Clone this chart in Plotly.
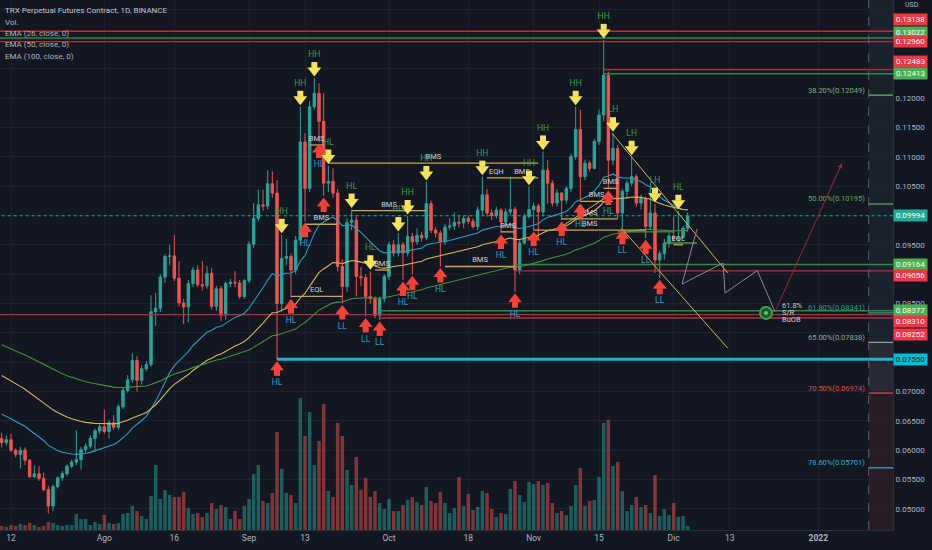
import numpy as np
import pandas as pd
import plotly.graph_objects as go

# TRX perpetual, 1D candles 2021-07-10 .. 2021-12-04
dates = pd.date_range("2021-07-10", "2021-12-04", freq="D")

opens = [
    0.0620, 0.0613, 0.0618, 0.0600, 0.0593, 0.0600, 0.0583, 0.0555, 0.0560, 0.0552,
    0.0533, 0.0505, 0.0538, 0.0553, 0.0560, 0.0573, 0.0580, 0.0584, 0.0601, 0.0607,
    0.0620, 0.0633, 0.0640, 0.0632, 0.0647, 0.0639, 0.0674, 0.0702, 0.0720, 0.0753,
    0.0719, 0.0739, 0.0746, 0.0836, 0.0842, 0.0895, 0.0930, 0.0931, 0.0893, 0.0851,
    0.0844, 0.0884, 0.0907, 0.0882, 0.0880, 0.0901, 0.0845, 0.0875, 0.0830, 0.0884,
    0.0886, 0.0885, 0.0862, 0.0889, 0.0951, 0.0995, 0.1018, 0.1016, 0.1054, 0.1038,
    0.0850, 0.0927, 0.0930, 0.0907, 0.0958, 0.1125, 0.1046, 0.1185, 0.1208, 0.1160,
    0.1055, 0.1058, 0.1038, 0.0913, 0.0879, 0.0988, 0.0992, 0.0896, 0.0894, 0.0862,
    0.0858, 0.0830, 0.0858, 0.0896, 0.0950, 0.0936, 0.0950, 0.0936, 0.0964, 0.0955,
    0.0966, 0.0962, 0.1020, 0.0975, 0.0970, 0.0955, 0.0980, 0.0982, 0.0988, 0.0987,
    0.0995, 0.0990, 0.0981, 0.1009, 0.1035, 0.1004, 0.1000, 0.1009, 0.0989, 0.1006,
    0.1010, 0.0907, 0.0953, 0.0998, 0.1010, 0.1016, 0.1006, 0.1077, 0.1055, 0.1021,
    0.1038, 0.1026, 0.1046, 0.1100, 0.1146, 0.1066, 0.1089, 0.1080, 0.1126, 0.1171,
    0.1239, 0.1094, 0.1114, 0.1004, 0.1041, 0.1055, 0.1066, 0.1021, 0.1029, 0.0981,
    0.1004, 0.0924, 0.0935, 0.0953, 0.0965, 0.0960, 0.0962, 0.0978,
]
highs = [
    0.0630, 0.0625, 0.0628, 0.0603, 0.0606, 0.0605, 0.0585, 0.0574, 0.0573, 0.0562,
    0.0540, 0.0542, 0.0556, 0.0565, 0.0576, 0.0584, 0.0634, 0.0606, 0.0612, 0.0625,
    0.0637, 0.0645, 0.0669, 0.0652, 0.0660, 0.0678, 0.0706, 0.0728, 0.0765, 0.0760,
    0.0745, 0.0752, 0.0864, 0.0868, 0.0900, 0.0934, 0.0950, 0.0967, 0.0922, 0.0858,
    0.0890, 0.0912, 0.0915, 0.0922, 0.0914, 0.0910, 0.0880, 0.0880, 0.0888, 0.0892,
    0.0905, 0.0890, 0.0892, 0.0956, 0.1021, 0.1044, 0.1044, 0.1077, 0.1075, 0.1060,
    0.0967, 0.0960, 0.0935, 0.0965, 0.1185, 0.1140, 0.1195, 0.1234, 0.1225, 0.1208,
    0.1085, 0.1080, 0.1045, 0.0925, 0.0995, 0.1010, 0.0998, 0.0912, 0.0900, 0.0905,
    0.0862, 0.0862, 0.0900, 0.0955, 0.0958, 0.0970, 0.0955, 0.0999, 0.0970, 0.0978,
    0.0972, 0.1057, 0.1025, 0.0980, 0.0975, 0.0985, 0.0995, 0.1005, 0.1000, 0.1000,
    0.1000, 0.0995, 0.1015, 0.1066, 0.1045, 0.1010, 0.1015, 0.1012, 0.1012, 0.1066,
    0.1015, 0.0958, 0.1003, 0.1049, 0.1022, 0.1020, 0.1109, 0.1094, 0.1060, 0.1045,
    0.1040, 0.1050, 0.1105, 0.1185, 0.1180, 0.1095, 0.1093, 0.1130, 0.1180, 0.1299,
    0.1245, 0.1140, 0.1120, 0.1045, 0.1060, 0.1100, 0.1070, 0.1035, 0.1032, 0.1055,
    0.1020, 0.0940, 0.0960, 0.0970, 0.0998, 0.1008, 0.0982, 0.1005,
]
lows = [
    0.0605, 0.0608, 0.0597, 0.0588, 0.0569, 0.0575, 0.0553, 0.0552, 0.0548, 0.0530,
    0.0492, 0.0497, 0.0535, 0.0548, 0.0556, 0.0570, 0.0575, 0.0567, 0.0596, 0.0603,
    0.0598, 0.0628, 0.0628, 0.0620, 0.0635, 0.0635, 0.0670, 0.0698, 0.0715, 0.0700,
    0.0712, 0.0735, 0.0742, 0.0812, 0.0835, 0.0885, 0.0915, 0.0888, 0.0845, 0.0815,
    0.0818, 0.0878, 0.0878, 0.0872, 0.0875, 0.0840, 0.0838, 0.0820, 0.0822, 0.0878,
    0.0878, 0.0858, 0.0858, 0.0885, 0.0945, 0.0990, 0.1008, 0.1010, 0.1030, 0.0754,
    0.0836, 0.0915, 0.0860, 0.0900, 0.0950, 0.0990, 0.1040, 0.1180, 0.1125, 0.1033,
    0.1040, 0.1030, 0.0905, 0.0850, 0.0870, 0.0975, 0.0862, 0.0880, 0.0828, 0.0850,
    0.0825, 0.0822, 0.0852, 0.0890, 0.0930, 0.0930, 0.0890, 0.0930, 0.0900, 0.0950,
    0.0955, 0.0958, 0.0970, 0.0962, 0.0913, 0.0950, 0.0975, 0.0975, 0.0980, 0.0978,
    0.0985, 0.0978, 0.0975, 0.1000, 0.0998, 0.0992, 0.0995, 0.0970, 0.0985, 0.1000,
    0.0870, 0.0900, 0.0950, 0.0995, 0.0975, 0.0960, 0.1000, 0.1020, 0.1015, 0.1015,
    0.0992, 0.1020, 0.1040, 0.1095, 0.1023, 0.1060, 0.1075, 0.1078, 0.1120, 0.1160,
    0.1045, 0.1085, 0.0995, 0.0978, 0.1030, 0.1050, 0.1015, 0.1010, 0.0961, 0.0975,
    0.0902, 0.0893, 0.0925, 0.0945, 0.0955, 0.0955, 0.0960, 0.0972,
]
closes = [
    0.0613, 0.0618, 0.0600, 0.0593, 0.0600, 0.0583, 0.0555, 0.0560, 0.0552, 0.0533,
    0.0505, 0.0538, 0.0553, 0.0560, 0.0573, 0.0580, 0.0584, 0.0601, 0.0607, 0.0620,
    0.0633, 0.0640, 0.0632, 0.0647, 0.0639, 0.0674, 0.0702, 0.0720, 0.0753, 0.0719,
    0.0739, 0.0746, 0.0836, 0.0842, 0.0895, 0.0930, 0.0931, 0.0893, 0.0851, 0.0844,
    0.0884, 0.0907, 0.0882, 0.0880, 0.0901, 0.0845, 0.0875, 0.0830, 0.0884, 0.0886,
    0.0885, 0.0862, 0.0889, 0.0951, 0.0995, 0.1018, 0.1016, 0.1054, 0.1038, 0.0850,
    0.0927, 0.0930, 0.0907, 0.0958, 0.1125, 0.1046, 0.1185, 0.1208, 0.1160, 0.1055,
    0.1058, 0.1038, 0.0913, 0.0879, 0.0988, 0.0992, 0.0896, 0.0894, 0.0862, 0.0858,
    0.0830, 0.0858, 0.0896, 0.0950, 0.0936, 0.0950, 0.0936, 0.0964, 0.0955, 0.0966,
    0.0962, 0.1020, 0.0975, 0.0970, 0.0955, 0.0980, 0.0982, 0.0988, 0.0987, 0.0995,
    0.0990, 0.0981, 0.1009, 0.1035, 0.1004, 0.1000, 0.1009, 0.0989, 0.1006, 0.1010,
    0.0907, 0.0953, 0.0998, 0.1010, 0.1016, 0.1006, 0.1077, 0.1055, 0.1021, 0.1038,
    0.1026, 0.1046, 0.1100, 0.1146, 0.1066, 0.1089, 0.1080, 0.1126, 0.1171, 0.1239,
    0.1094, 0.1114, 0.1004, 0.1041, 0.1055, 0.1066, 0.1021, 0.1029, 0.0981, 0.1004,
    0.0924, 0.0935, 0.0953, 0.0965, 0.0960, 0.0962, 0.0978, 0.0999,
]
# volume, relative units (bar heights)
volume = [
    4, 3, 5, 4, 6, 5, 7, 5, 3, 4,
    8, 7, 5, 4, 5, 5, 16, 11, 11, 5,
    8, 6, 15, 7, 6, 7, 16, 17, 24, 19,
    14, 11, 34, 65, 31, 40, 35, 33, 33, 38,
    22, 16, 17, 13, 17, 27, 21, 25, 23, 11,
    19, 11, 24, 31, 56, 65, 29, 27, 37, 98,
    61, 37, 35, 27, 132, 94, 118, 65, 89, 126,
    39, 33, 107, 94, 60, 45, 73, 40, 52, 33,
    39, 27, 21, 31, 19, 19, 25, 30, 33, 28,
    25, 43, 29, 27, 38, 27, 17, 22, 53, 24,
    36, 20, 23, 39, 37, 21, 13, 17, 16, 41,
    49, 35, 28, 48, 46, 49, 45, 47, 27, 17,
    19, 15, 24, 45, 62, 24, 29, 30, 53, 107,
    110, 64, 68, 39, 19, 25, 33, 23, 25, 17,
    55, 14, 21, 15, 27, 13, 14, 4,
]

ema_periods = [26, 50, 100]
ema_seeds = [0.0665, 0.0732, 0.0783]  # values at the left edge of the chart
ema_colors = ["#2b9cc0", "#d8b45e", "#4a8f3c"]

# swing markers
hi_dates = ["2021-09-08", "2021-09-12", "2021-09-15", "2021-09-18", "2021-09-23", "2021-09-27",
            "2021-10-03", "2021-10-05", "2021-10-09", "2021-10-21", "2021-10-31", "2021-11-03",
            "2021-11-10", "2021-11-16", "2021-11-18", "2021-11-22", "2021-11-27", "2021-12-02"]
hi_tags = ["HH", "HH", "HH", "HL", "HL", "HL", "HH", "HH", "HH", "HH", "HH", "HH",
           "HH", "HH", "LH", "LH", "LH", "HL"]
lo_dates = ["2021-09-07", "2021-09-10", "2021-09-13", "2021-09-16", "2021-09-17", "2021-09-21",
            "2021-09-26", "2021-09-29", "2021-10-04", "2021-10-06", "2021-10-12", "2021-10-25",
            "2021-10-28", "2021-11-01", "2021-11-07", "2021-11-11", "2021-11-17", "2021-11-20",
            "2021-11-25", "2021-11-28"]
lo_tags = ["HL", "HL", "HL", "HL", "", "LL", "LL", "LL", "HL", "HL", "HL", "HL",
           "HL", "HL", "HL", "HL", "HL", "LL", "LL", "LL"]

# structure levels (BMS / EQL / EQH)
seg_start = ["2021-09-10", "2021-09-13", "2021-09-18", "2021-09-23", "2021-09-28", "2021-10-13",
             "2021-10-22", "2021-10-26", "2021-10-25", "2021-11-01", "2021-11-07", "2021-11-11",
             "2021-11-16", "2021-12-01", "2021-09-14"]
seg_end = ["2021-09-21", "2021-09-20", "2021-11-02", "2021-10-09", "2021-10-01", "2021-10-28",
           "2021-10-26", "2021-11-02", "2021-10-28", "2021-11-25", "2021-11-19", "2021-11-18",
           "2021-11-19", "2021-12-03", "2021-09-17"]
seg_price = [0.0862, 0.0985, 0.1089, 0.1008, 0.0907, 0.0913, 0.1064, 0.1064, 0.0972,
             0.0975, 0.0994, 0.1024, 0.1046, 0.0950, 0.1120]
seg_tags = ["EQL", "BMS", "BMS", "BMS", "BMS", "BMS", "EQH", "BMS", "BMS",
            "BMS", "BMS", "BMS", "BMS", "EQL", "BMS"]

green_seg_start = ["2021-11-19", "2021-11-29"]
green_seg_end = ["2021-12-01", "2021-12-06"]
green_seg_price = [0.0972, 0.0953]

# order-block / S/R horizontal levels
lvl_price = [0.13138, 0.13022, 0.12960, 0.12483, 0.12413, 0.09164, 0.09056,
             0.08377, 0.08310, 0.08252, 0.07550]
lvl_start = ["2021-07-01", "2021-07-01", "2021-07-01", "2021-11-16", "2021-11-16", "2021-10-28",
             "2021-10-28", "2021-09-29", "2021-07-01", "2021-09-29", "2021-09-07"]
lvl_kind = ["r", "g", "r", "r", "g", "g", "r", "g", "r", "r", "c"]

last_price = 0.09994

# trend lines (drawn by the author)
tl_x0 = ["2021-11-17 19:00", "2021-11-19 17:00", "2021-11-06 14:00"]
tl_y0 = [0.1140, 0.0979, 0.0979]
tl_x1 = ["2021-12-12 14:00", "2021-12-12 14:00", "2021-11-16 17:00"]
tl_y1 = [0.0902, 0.0774, 0.1032]

# projected path
zig_x = ["2021-12-06 00:00", "2021-12-02 19:00", "2021-12-11 14:00",
         "2021-12-12 00:00", "2021-12-18 22:00", "2021-12-22 17:00"]
zig_y = [0.0977, 0.0883, 0.0919, 0.0868, 0.0906, 0.0836]
target_x, target_y = "2022-01-06 02:00", 0.1089
eye_x, eye_y = "2021-12-20 19:00", 0.0834
eye_text_x = "2021-12-24 05:00"

# fibonacci retracement
fib_pct = ["38.20%", "50.00%", "61.80%", "65.00%", "70.50%", "78.60%"]
fib_price = [0.12049, 0.10195, 0.08341, 0.07838, 0.06974, 0.05701]
fib_colors = ["#79b56f", "#63ad5b", "#22a39a", "#93ab9c", "#e04a4a", "#29b6d6"]

# price-scale tags
tag_price = [0.13138, 0.13022, 0.12960, 0.12483, 0.12413, 0.09994, 0.09164,
             0.09056, 0.08377, 0.08310, 0.08252, 0.07550]
tag_kind = ["r", "g", "r", "r", "g", "t", "g", "r", "g", "r", "r", "c"]
tag_shift = [12, 6, 0, 8, 0, 0, 0, -5, 0, -7, -16, 0]

# price ticks that are not hidden behind a tag
y_ticks = [0.050, 0.055, 0.060, 0.065, 0.070, 0.085, 0.095, 0.105, 0.110, 0.115, 0.120]

x_ticks = ["2021-07-12", "2021-08-01", "2021-08-16", "2021-09-01", "2021-09-13", "2021-10-01",
           "2021-10-18", "2021-11-01", "2021-11-15", "2021-12-01", "2021-12-13", "2022-01-01"]
x_text = ["12", "Ago", "16", "Sep", "13", "Oct", "18", "Nov", "15", "Dic", "13", "<b>2022</b>"]

BG = "#131722"
TXT = "#b2b5be"
GRID = "#1e222d"
FONT = "Roboto"
LINE_COL = {"r": "#b3303a", "g": "#2f8a42", "c": "#19b5d2"}
TAG_COL = {"r": "#f23645", "g": "#4caf50", "t": "#22ab94", "c": "#00bcd4"}
X_RANGE = ["2021-07-09 15:26", "2022-01-17 00:00"]
Y_RANGE = [0.046419, 0.136692]
PLOT_H = 530
PX = (Y_RANGE[1] - Y_RANGE[0]) / PLOT_H   # price per pixel
fib_edge = "2022-01-11 19:00"
far_right = "2022-02-15"


def ema(values, period, seed):
    k = 2.0 / (period + 1)
    out, e = [], seed
    for v in values:
        e = v * k + e * (1 - k)
        out.append(e)
    return out


fig = go.Figure()

# volume on the hidden primary axis (drawn underneath)
up = np.array(closes) >= np.array(opens)
vol_colors = np.where(up, "rgba(38,166,154,0.5)", "rgba(239,83,80,0.5)")
fig.add_trace(go.Bar(x=dates, y=volume, marker_color=vol_colors, marker_line_width=0,
                     yaxis="y", hoverinfo="skip"))

# horizontal levels
for p, s, k in zip(lvl_price, lvl_start, lvl_kind):
    fig.add_trace(go.Scatter(x=[s, far_right], y=[p, p], mode="lines", yaxis="y2",
                             line=dict(color=LINE_COL[k], width=3 if k == "c" else 1.4),
                             hoverinfo="skip"))
fig.add_trace(go.Scatter(x=["2021-07-01", far_right], y=[last_price, last_price], mode="lines",
                         yaxis="y2", line=dict(color="#22ab94", width=1, dash="dot"),
                         hoverinfo="skip"))

# EMAs
for per, seed, col in zip(ema_periods, ema_seeds, ema_colors):
    fig.add_trace(go.Scatter(x=dates, y=ema(closes, per, seed), mode="lines", yaxis="y2",
                             line=dict(color=col, width=1.1), hoverinfo="skip"))

# candles
fig.add_trace(go.Candlestick(x=dates, open=opens, high=highs, low=lows, close=closes,
                             yaxis="y2", whiskerwidth=0,
                             increasing=dict(line=dict(color="#26a69a", width=1), fillcolor="#26a69a"),
                             decreasing=dict(line=dict(color="#ef5350", width=1), fillcolor="#ef5350"),
                             hoverinfo="skip"))

# structure segments
for s, e, p in zip(seg_start, seg_end, seg_price):
    fig.add_trace(go.Scatter(x=[s, e], y=[p, p], mode="lines", yaxis="y2",
                             line=dict(color="#c9a84c", width=1.3), hoverinfo="skip"))
for s, e, p in zip(green_seg_start, green_seg_end, green_seg_price):
    fig.add_trace(go.Scatter(x=[s, e], y=[p, p], mode="lines", yaxis="y2",
                             line=dict(color="#4a9a3e", width=1.3), hoverinfo="skip"))
seg_mid = [pd.Timestamp(s) + (pd.Timestamp(e) - pd.Timestamp(s)) / 2 for s, e in zip(seg_start, seg_end)]
fig.add_trace(go.Scatter(x=seg_mid, y=[p + 6 * PX for p in seg_price], mode="text", text=seg_tags,
                         yaxis="y2", textfont=dict(family=FONT, size=7.5, color="#d1d4dc"),
                         hoverinfo="skip"))

# trend lines
for x0, y0, x1, y1 in zip(tl_x0, tl_y0, tl_x1, tl_y1):
    fig.add_trace(go.Scatter(x=[x0, x1], y=[y0, y1], mode="lines", yaxis="y2",
                             line=dict(color="#d9b44a", width=1), hoverinfo="skip"))

# projection
fig.add_trace(go.Scatter(x=zig_x, y=zig_y, mode="lines", yaxis="y2",
                         line=dict(color="#8a8d96", width=1), hoverinfo="skip"))
fig.add_trace(go.Scatter(x=[eye_x], y=[eye_y], mode="markers", yaxis="y2",
                         marker=dict(symbol="circle", size=12, color="#1d5a2a",
                                     line=dict(color="#3ea14c", width=2)), hoverinfo="skip"))
fig.add_trace(go.Scatter(x=[eye_x], y=[eye_y], mode="markers", yaxis="y2",
                         marker=dict(symbol="circle", size=4, color="#62c56f"), hoverinfo="skip"))
fig.add_trace(go.Scatter(x=[eye_text_x] * 3, y=[eye_y + 7 * PX, eye_y, eye_y - 7 * PX],
                         mode="text", text=["61.8%", "S/R", "BuOB"], textposition="middle right",
                         yaxis="y2", textfont=dict(family=FONT, size=7.5, color="#c8cad0"),
                         hoverinfo="skip"))

# swing arrows
date_keys = list(dates.strftime("%Y-%m-%d"))
hi_y = [highs[date_keys.index(d)] for d in hi_dates]
lo_y = [lows[date_keys.index(d)] for d in lo_dates]

fig.add_trace(go.Scatter(x=hi_dates, y=[v + 13 * PX for v in hi_y], mode="markers", yaxis="y2",
                         marker=dict(symbol="square", size=6, color="#f7e35a", line_width=0),
                         hoverinfo="skip"))
fig.add_trace(go.Scatter(x=hi_dates, y=[v + 7.5 * PX for v in hi_y], mode="markers", yaxis="y2",
                         marker=dict(symbol="triangle-down", size=12, color="#f7e35a", line_width=0),
                         hoverinfo="skip"))
fig.add_trace(go.Scatter(x=hi_dates, y=[v + 23 * PX for v in hi_y], mode="text", text=hi_tags,
                         yaxis="y2", textfont=dict(family=FONT, size=8.5, color="#3f9a4b"),
                         hoverinfo="skip"))
fig.add_trace(go.Scatter(x=lo_dates, y=[v - 13 * PX for v in lo_y], mode="markers", yaxis="y2",
                         marker=dict(symbol="square", size=6, color="#f44336", line_width=0),
                         hoverinfo="skip"))
fig.add_trace(go.Scatter(x=lo_dates, y=[v - 7.5 * PX for v in lo_y], mode="markers", yaxis="y2",
                         marker=dict(symbol="triangle-up", size=12, color="#f44336", line_width=0),
                         hoverinfo="skip"))
fig.add_trace(go.Scatter(x=lo_dates, y=[v - 23 * PX for v in lo_y], mode="text", text=lo_tags,
                         yaxis="y2", textfont=dict(family=FONT, size=8.5, color="#2a9fc0"),
                         hoverinfo="skip"))

shapes = []
# fib zones in the right strip
zone_edges = [Y_RANGE[1], fib_price[3], fib_price[4], Y_RANGE[0]]
zone_fill = ["#19222d", "#282a35", "#2a1c25"]
for i, col in enumerate(zone_fill):
    shapes.append(dict(type="rect", xref="x", yref="y2", x0=fib_edge, x1=X_RANGE[1],
                       y0=zone_edges[i + 1], y1=zone_edges[i], fillcolor=col, line_width=0,
                       layer="below"))
for p, col in zip(fib_price, fib_colors):
    shapes.append(dict(type="line", xref="x", yref="y2", x0=fib_edge, x1=X_RANGE[1], y0=p, y1=p,
                       line=dict(color=col, width=1.2)))
shapes.append(dict(type="line", xref="x", yref="paper", x0=fib_edge, x1=fib_edge, y0=0, y1=1,
                   line=dict(color="#5d606b", width=1, dash="dash")))

annotations = []
for pct, p, col in zip(fib_pct, fib_price, fib_colors):
    annotations.append(dict(x=fib_edge, y=p, xref="x", yref="y2", text=f"{pct}({p:.5f})",
                            showarrow=False, xanchor="right", yanchor="middle", xshift=-2, yshift=5,
                            font=dict(family=FONT, size=7.5, color=col)))
for p, k, sh in zip(tag_price, tag_kind, tag_shift):
    annotations.append(dict(x=1, y=p, xref="paper", yref="y2", text=f"{p:.5f}", showarrow=False,
                            xanchor="left", yanchor="middle", yshift=sh, xshift=0,
                            bgcolor=TAG_COL[k], width=33, height=11, borderpad=0,
                            font=dict(family=FONT, size=8,
                                      color="#0b1a2a" if k == "c" else "#ffffff")))
annotations.append(dict(x=1, y=1 - 5 / PLOT_H, xref="paper", yref="paper", text="USD",
                        showarrow=False, xanchor="left", xshift=10, yanchor="middle",
                        font=dict(family=FONT, size=7, color=TXT)))
annotations.append(dict(x=target_x, y=target_y, ax=zig_x[-1], ay=zig_y[-1], xref="x", yref="y2",
                        axref="x", ayref="y2", showarrow=True, arrowhead=2, arrowsize=1,
                        arrowwidth=1, arrowcolor="#9a2c36", text=""))

legend_lines = ["TRX Perpetual Futures Contract, 1D, BINANCE", "Vol.", "EMA (26, close, 0)",
                "EMA (50, close, 0)", "EMA (100, close, 0)"]
for j, t in enumerate(legend_lines):
    annotations.append(dict(x=0, y=1 - (11 + 11.3 * j) / PLOT_H, xref="paper", yref="paper",
                            text=t, showarrow=False, xanchor="left", yanchor="middle", xshift=3,
                            font=dict(family=FONT, size=8, color="#c3c6ce" if j == 0 else TXT)))

fig.update_layout(
    width=932, height=550,
    margin=dict(l=0, r=39, t=0, b=20),
    paper_bgcolor=BG, plot_bgcolor=BG,
    showlegend=False, bargap=0.25, boxgap=0.25,
    font=dict(family=FONT, color=TXT),
    shapes=shapes, annotations=annotations,
    xaxis=dict(type="date", range=X_RANGE, tickvals=x_ticks, ticktext=x_text,
               showgrid=True, gridcolor=GRID, showline=True, linecolor="#2a2e39",
               ticks="", tickfont=dict(size=8.5, color=TXT), rangeslider=dict(visible=False),
               zeroline=False),
    yaxis=dict(range=[0, PLOT_H], visible=False, showgrid=False, fixedrange=True),
    yaxis2=dict(overlaying="y", side="right", range=Y_RANGE, tickvals=y_ticks,
                tickformat=".5f", showgrid=True, gridcolor=GRID, showline=True,
                linecolor="#2a2e39", ticks="", zeroline=False,
                minor=dict(dtick=0.005, tick0=0, showgrid=True, gridcolor=GRID, ticks=""),
                tickfont=dict(size=8, color=TXT)),
)

# the page body has a default margin; drop it so the figure fills the window
fig.write_html("out.html", config={"displayModeBar": False},
               post_script="document.body.style.margin='0';document.body.style.overflow='hidden';")
